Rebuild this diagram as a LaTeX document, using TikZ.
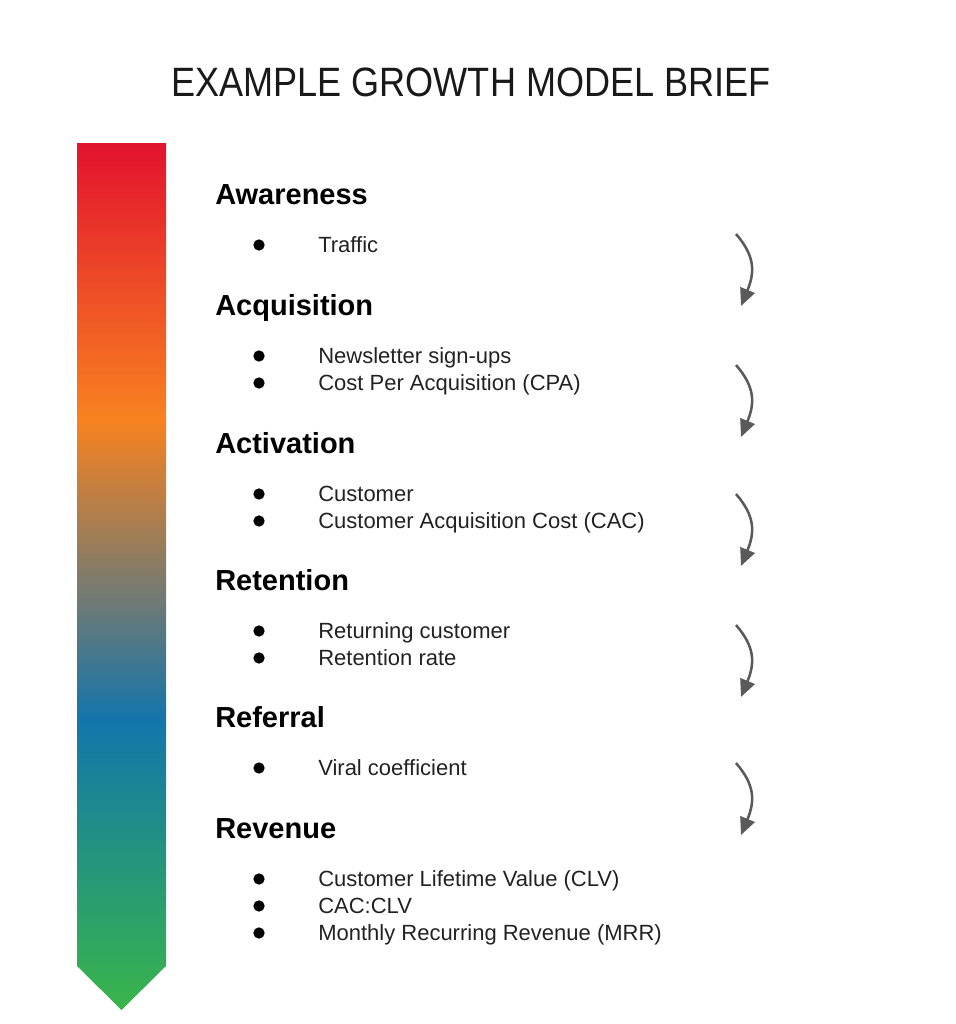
\documentclass[tikz,border=0pt]{standalone}
\usepackage{fontspec}
\setmainfont{Liberation Sans}
\newfontfamily\titlefont{Liberation Sans}[FakeStretch=0.88]
\usetikzlibrary{arrows.meta}

\definecolor{gmred}{HTML}{E3122E}
\definecolor{gmorange}{HTML}{F88220}
\definecolor{gmblue}{HTML}{1475AC}
\definecolor{gmgreen}{HTML}{3AB54A}
\definecolor{gmtext}{HTML}{222222}
\definecolor{gmarrow}{HTML}{5A5A5A}

\pgfdeclareverticalshading{growthfade}{100bp}{color(0bp)=(gmgreen); color(25bp)=(gmgreen);
    color(41.75bp)=(gmblue); color(59bp)=(gmorange); color(75bp)=(gmred); color(100bp)=(gmred)}

\begin{document}
\begin{tikzpicture}[x=0.75pt, y=-0.75pt,
    title/.style={anchor=base, inner sep=0pt, text=black!90, font=\titlefont\fontsize{30.75}{36}\selectfont},
    stage/.style={anchor=base west, inner sep=0pt, font=\bfseries\fontsize{21.75}{26}\selectfont},
    item/.style={anchor=base west, inner sep=0pt, text=gmtext, font=\fontsize{16.5}{20}\selectfont},
    dot/.style={circle, fill=black, inner sep=0pt, minimum size=8.5pt},
    flow/.style={draw=gmarrow, line width=1.9pt, -{Triangle[length=13pt, width=11.5pt]}}]

    \useasboundingbox (0, 0) rectangle (956, 1024);

    \node[title] (title) at (471, 97) {EXAMPLE GROWTH MODEL BRIEF};

    % funnel bar
    \shade[shading=growthfade] (77, 143) -- (166, 143) -- (166, 966)
        -- (121.5, 1010) -- (77, 966) -- cycle;

    % stages
    \node[stage] (awareness)   at (215, 204) {Awareness};
        \node[dot]  (d11) at (259, 245) {};
        \node[item] (i11) at (318, 252) {Traffic};

    \node[stage] (acquisition) at (215, 315) {Acquisition};
        \node[dot]  (d21) at (259, 356) {};
        \node[item] (i21) at (318, 363) {Newsletter sign-ups};
        \node[dot]  (d22) at (259, 383) {};
        \node[item] (i22) at (318, 390) {Cost Per Acquisition (CPA)};

    \node[stage] (activation)  at (215, 453) {Activation};
        \node[dot]  (d31) at (259, 494) {};
        \node[item] (i31) at (318, 501) {Customer};
        \node[dot]  (d32) at (259, 521) {};
        \node[item] (i32) at (318, 528) {Customer Acquisition Cost (CAC)};

    \node[stage] (retention)   at (215, 590) {Retention};
        \node[dot]  (d41) at (259, 631) {};
        \node[item] (i41) at (318, 638) {Returning customer};
        \node[dot]  (d42) at (259, 658) {};
        \node[item] (i42) at (318, 665) {Retention rate};

    \node[stage] (referral)    at (215, 727) {Referral};
        \node[dot]  (d51) at (259, 768) {};
        \node[item] (i51) at (318, 775) {Viral coefficient};

    \node[stage] (revenue)     at (215, 838) {Revenue};
        \node[dot]  (d61) at (259, 879) {};
        \node[item] (i61) at (318, 886) {Customer Lifetime Value (CLV)};
        \node[dot]  (d62) at (259, 906) {};
        \node[item] (i62) at (318, 913) {CAC:CLV};
        \node[dot]  (d63) at (259, 933) {};
        \node[item] (i63) at (318, 940) {Monthly Recurring Revenue (MRR)};

    % curved arrows
    \coordinate (a1s) at (736, 234);  \coordinate (a1e) at (741, 306);
    \coordinate (a2s) at (736, 365);  \coordinate (a2e) at (741, 437);
    \coordinate (a3s) at (736, 494);  \coordinate (a3e) at (741, 566);
    \coordinate (a4s) at (736, 625);  \coordinate (a4e) at (741, 697);
    \coordinate (a5s) at (736, 763);  \coordinate (a5e) at (741, 835);

    \draw[flow] (a1s) .. controls +(19, 22) and +(14, -34) .. (a1e);
    \draw[flow] (a2s) .. controls +(19, 22) and +(14, -34) .. (a2e);
    \draw[flow] (a3s) .. controls +(19, 22) and +(14, -34) .. (a3e);
    \draw[flow] (a4s) .. controls +(19, 22) and +(14, -34) .. (a4e);
    \draw[flow] (a5s) .. controls +(19, 22) and +(14, -34) .. (a5e);

\end{tikzpicture}
\end{document}
